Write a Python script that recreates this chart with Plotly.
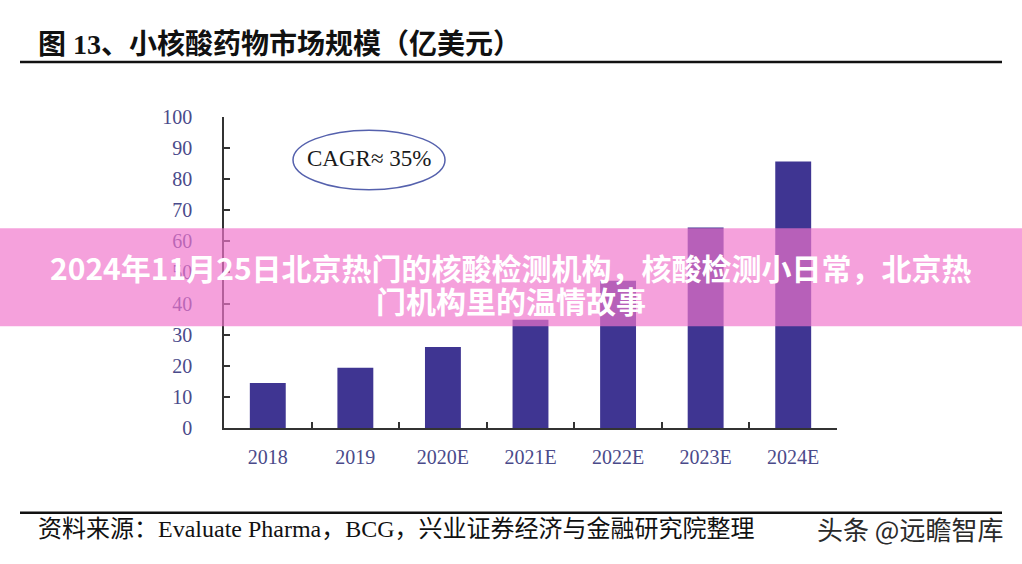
import plotly.graph_objects as go

W, H = 1022, 564

categories = ["2018", "2019", "2020E", "2021E", "2022E", "2023E", "2024E"]
values = [14.5, 19.4, 26.0, 34.8, 47.3, 64.4, 85.6]
y_ticks = [0, 10, 20, 30, 40, 50, 60, 70, 80, 90, 100]

title_text = "图 13、小核酸药物市场规模（亿美元）"
source_text = "资料来源：Evaluate Pharma，BCG，兴业证券经济与金融研究院整理"
watermark_text = "头条 @远瞻智库"
cagr_text = "CAGR≈ 35%"
banner_line1 = "2024年11月25日北京热门的核酸检测机构，核酸检测小日常，北京热"
banner_line2 = "门机构里的温情故事"


def px(x):
    return x / W


def py(y):
    return 1 - y / H


serif = "Liberation Serif, Times New Roman, serif"
cjk_serif = "Liberation Serif, Noto Sans CJK SC, serif"
label_color = "#4a4a8a"

fig = go.Figure()
fig.add_trace(go.Bar(
    x=categories, y=values,
    marker=dict(color="#3f3592", line=dict(width=0)),
    width=0.41,
    hoverinfo="skip",
))

fig.update_layout(
    width=W, height=H,
    margin=dict(l=0, r=0, t=0, b=0),
    paper_bgcolor="white", plot_bgcolor="white",
    showlegend=False,
    xaxis=dict(
        domain=[px(224), px(837)],
        type="category",
        range=[-0.5, 6.5],
        showline=True, linecolor="#333333", linewidth=1.5,
        ticks="inside", ticklen=6, tickcolor="#333333", tickwidth=1.5,
        tickson="boundaries",
        showgrid=False, zeroline=False,
        tickfont=dict(family=serif, size=20, color=label_color),
        ticklabelstandoff=10,
    ),
    yaxis=dict(
        domain=[py(434), py(110)],
        range=[0, 100],
        tickvals=y_ticks,
        showline=True, linecolor="#333333", linewidth=1.5,
        ticks="inside", ticklen=6, tickcolor="#333333", tickwidth=1.5,
        showgrid=False, zeroline=False,
        tickfont=dict(family=serif, size=20, color=label_color),
        ticklabelstandoff=26,
    ),
)

shapes = [
    # title underline
    dict(type="line", xref="paper", yref="paper", x0=px(20), x1=px(1002), y0=py(53), y1=py(53),
         line=dict(color="#111111", width=2.5)),
    # footer line
    dict(type="line", xref="paper", yref="paper", x0=px(20), x1=px(1002), y0=py(522), y1=py(522),
         line=dict(color="#111111", width=2.5)),
    # CAGR ellipse
    dict(type="circle", xref="paper", yref="paper", x0=px(293), x1=px(445), y0=py(186), y1=py(124),
         line=dict(color="#5561ad", width=1.5)),
    # pink banner
    dict(type="rect", xref="paper", yref="paper", x0=0, x1=1, y0=py(328), y1=py(226),
         fillcolor="rgba(240,116,204,0.68)", line=dict(width=0), layer="above"),
]
fig.update_layout(shapes=shapes)

annotations = [
    dict(text=title_text, x=px(36), y=py(35), xref="paper", yref="paper",
         xanchor="left", yanchor="middle", showarrow=False,
         font=dict(family=cjk_serif, size=28, color="#111111", weight="bold")),
    dict(text=source_text, x=px(36), y=py(539), xref="paper", yref="paper",
         xanchor="left", yanchor="middle", showarrow=False,
         font=dict(family=cjk_serif, size=24, color="#111111")),
    dict(text=watermark_text, x=px(1005), y=py(538), xref="paper", yref="paper",
         xanchor="right", yanchor="middle", showarrow=False,
         font=dict(family="Noto Sans CJK SC", size=26, color="#2a2a2a")),
    dict(text=cagr_text, x=px(369), y=py(153), xref="paper", yref="paper",
         xanchor="center", yanchor="middle", showarrow=False,
         font=dict(family=serif, size=23, color="#1a1a1a")),
    dict(text="<b>" + banner_line1 + "</b>", x=0.5, y=py(266), xref="paper", yref="paper",
         xanchor="center", yanchor="middle", showarrow=False,
         font=dict(family="Noto Sans CJK SC", size=30, color="white")),
    dict(text="<b>" + banner_line2 + "</b>", x=0.5, y=py(301), xref="paper", yref="paper",
         xanchor="center", yanchor="middle", showarrow=False,
         font=dict(family="Noto Sans CJK SC", size=30, color="white")),
]
fig.update_layout(annotations=annotations)

fig.write_html("out.html", config={"displayModeBar": False},
               post_script="document.body.style.margin='0';")
